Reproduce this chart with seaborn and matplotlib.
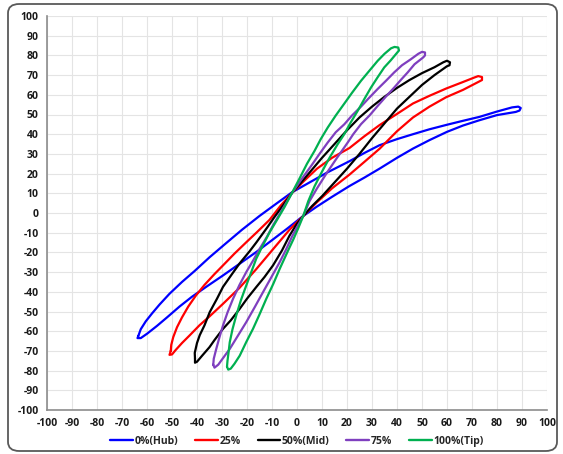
import matplotlib
matplotlib.use("Agg")
import matplotlib.pyplot as plt
import seaborn as sns
import pandas as pd
from matplotlib.patches import FancyBboxPatch

# ---------------- data ----------------
series_names = ["0%(Hub)", "25%", "50%(Mid)", "75%", "100%(Tip)"]
series_colors = ["#0000ff", "#ff0000", "#000000", "#7f3fbf", "#00b050"]

hub_x = [-63.5, -62.5, -60.5, -58, -55, -51, -46, -41, -35, -29, -22, -15, -8, -2, 5, 12, 21, 27, 33, 40,
         46.4, 53, 60, 66.4, 73, 80, 86, 88.5, 89.5, 89, 87.5, 80, 73, 66.4, 60, 53, 46.4, 40, 33, 27,
         21, 14, 8, 2.5, -4, -10, -16.3, -23, -29.6, -36, -42, -47, -52, -56, -60, -62.5, -63.8, -63.5]
hub_y = [-62.5, -59, -55, -51, -46.5, -41, -35, -29.5, -22.5, -16, -8.5, -1.5, 5, 10.5, 15.5, 20.5, 26.3, 30.5, 34.4, 37.5,
         40, 42.5, 44.8, 46.8, 48.8, 51.5, 53.6, 54, 53.3, 52, 51.3, 49.7, 47.1, 44.4, 41.2, 37, 32.7, 28, 22.5, 18,
         13.7, 8.2, 3.3, -1.5, -8, -13.8, -19.8, -25.8, -31.7, -37.2, -42.5, -47.5, -53, -57.3, -61.3, -63.5, -63.5, -62.5]

r25_x = [-50.5, -50.3, -49.5, -48, -46, -43.5, -40.5, -37, -33, -29.6, -25, -20, -16, -11, -6.5, -2, 3, 8, 14, 21,
         27, 33, 40, 46.4, 53, 59.7, 66, 71, 72.5, 74, 74, 72.5, 66.4, 59.7, 53, 46.4, 40, 33.1, 27, 21,
         14, 8, 2.5, -3, -9, -16.3, -23, -29.6, -35, -39, -43, -46, -48.5, -50, -51, -50.5]
r25_y = [-70, -67, -63, -58, -53, -47.5, -42, -36.5, -31, -26.6, -20.6, -14.5, -9.7, -3.5, 3.8, 10.2, 16.5, 22.5, 28, 33,
         39, 44.6, 50.3, 55.6, 59.5, 63.2, 66.3, 68.8, 69.5, 69, 67.5, 66.5, 62.5, 58.8, 54, 48.5, 41.5, 32.7, 26, 19.5,
         12.5, 5.5, -1.5, -8.5, -17.5, -28.5, -38, -46.1, -52.5, -57, -62.2, -66, -69.5, -71.8, -72, -70]

mid_x = [-40.8, -40.9, -40, -38.9, -37, -34.9, -32, -29.6, -26, -22.9, -19, -16.3, -12, -9, -5.5, -2, 2, 6, 10, 15,
         20, 25, 30, 35, 40, 45, 50, 55, 58.5, 60, 61.2, 61, 60, 55, 50, 45, 40, 35, 30, 25,
         20, 15, 10, 6, 2.5, 0, -3, -6, -9.6, -13, -16.3, -20, -22.9, -26.5, -29.6, -33, -35, -38, -40, -40.8, -40.8]
mid_y = [-74, -71, -66, -62, -57, -50.3, -43.5, -37.5, -31, -25.5, -19.5, -15, -7.5, -2, 4, 10.2, 16, 22, 28, 35,
         42, 48.5, 54, 59, 63.5, 67.5, 71, 74, 76.5, 77.3, 76.5, 75, 74.5, 70, 65, 59, 53, 45.5, 38, 30,
         22.5, 15.5, 8.5, 3.5, -1.5, -5.4, -11.5, -19, -26.6, -32.5, -37.6, -43.5, -48.6, -54.5, -58.8, -64.5, -68.1, -72.5, -75.5, -76, -74]

p75_x = [-33.5, -33.3, -32.3, -31, -29.6, -27.8, -25.6, -23, -20.3, -17.5, -14.9, -12, -9.6, -6, -2, 2, 6, 9, 12.3, 15.5,
         18.9, 22, 25.6, 28.5, 32.3, 35.5, 38.9, 42, 45.6, 48.5, 50, 51.2, 51.2, 50.5, 47, 44.3, 41.5, 38.9, 35.5, 32.3,
         29, 25.6, 22.5, 20.3, 16, 12, 8, 5, 2.5, 0.4, -2, -4.4, -6.9, -10, -13.6, -17, -20.3, -23.5, -26.9, -29.5, -31.5, -33, -33.5]
p75_y = [-77, -74, -69, -63, -57.1, -50.5, -43.6, -36.5, -30, -24, -18.1, -12, -6.3, 1.5, 10.2, 17.5, 24.5, 30, 35.8, 41,
         45, 49.5, 54, 58, 63, 67, 71.4, 75, 78.1, 80.8, 81.8, 81.5, 80, 79, 75.5, 71.4, 67.5, 63.7, 59, 54.4,
         49.5, 45.1, 40, 35.8, 28, 20.5, 12.5, 6, -1.5, -6.3, -12, -18.6, -24.9, -32, -40.2, -48, -55.4, -62, -69, -73.5, -77, -78.5, -77]

tip_x = [-28, -27.8, -27.3, -26.9, -25.8, -24.3, -22.5, -20.3, -18.3, -16.3, -13.5, -10.9, -8, -5, -2, 1, 4, 7, 9.5, 12.3,
         15.5, 18.9, 22, 25.6, 29, 32.3, 35, 37.6, 39, 40.5, 40.8, 40, 37.5, 34.9, 32.2, 29.6, 27, 24.3, 21.5, 18.9,
         16.3, 13, 10, 7, 4.5, 2.5, 0.4, -1.5, -3.4, -6.9, -9.5, -12.3, -15, -17.6, -20.3, -22.9, -25, -26.5, -27.5, -28]
tip_y = [-78, -75, -70, -65.6, -59, -52, -44.5, -36.8, -30, -23.2, -16, -9.7, -3.5, 3, 10.2, 17.5, 25, 31.5, 37.5, 43.4,
         49.5, 55.5, 61, 67.1, 72.3, 77.3, 80.8, 83.6, 84.3, 84, 82.5, 81.3, 77.5, 73.9, 68.8, 63.7, 58, 51.9, 46, 40,
         35, 28, 21, 13.5, 6, -1.5, -8, -13.5, -18.6, -28.3, -36, -43.6, -51.5, -58.8, -65.5, -72.4, -76.5, -79, -79.5, -78]

tick_values = list(range(-100, 101, 10))

# ---------------- build table ----------------
all_x = [hub_x, r25_x, mid_x, p75_x, tip_x]
all_y = [hub_y, r25_y, mid_y, p75_y, tip_y]
frames = []
for name, xs, ys in zip(series_names, all_x, all_y):
    frames.append(pd.DataFrame({"x": xs, "y": ys, "series": name,
                                "order": range(len(xs))}))
df = pd.concat(frames, ignore_index=True)

# ---------------- figure ----------------
sns.set_style("white")
plt.rcParams["font.family"] = ["Open Sans", "DejaVu Sans"]

W, H = 563, 454
fig = plt.figure(figsize=(W / 100, H / 100), dpi=100)

ax = fig.add_axes([47 / W, 1 - 410 / H, 500 / W, 394 / H])
ax.set_facecolor("none")

sns.lineplot(data=df, x="x", y="y", hue="series", hue_order=series_names,
             palette=series_colors, sort=False, estimator=None,
             linewidth=1.6, ax=ax, zorder=3)

ax.set_xlim(-100, 100)
ax.set_ylim(-100, 100)
ax.set_xticks(tick_values)
ax.set_yticks(tick_values)
ax.set_xticklabels([str(v) for v in tick_values], fontsize=7.5, fontweight="bold", color="#1a1a1a")
ax.set_yticklabels([str(v) for v in tick_values], fontsize=7.5, fontweight="bold", color="#1a1a1a")
ax.grid(True, color="#e4e4e4", linewidth=0.8, zorder=0)
ax.set_axisbelow(True)
ax.set_xlabel("")
ax.set_ylabel("")
for s in ["top", "right"]:
    ax.spines[s].set_visible(False)
for s in ["left", "bottom"]:
    ax.spines[s].set_color("#8c8c8c")
    ax.spines[s].set_linewidth(1.2)
ax.tick_params(axis="both", which="major", length=3, width=0.8, color="#8c8c8c",
               direction="out", pad=3)

leg = ax.legend(loc="upper center", bbox_to_anchor=(0.5, -0.042), ncol=5,
                frameon=False, handlelength=2.2, handletextpad=0.15,
                columnspacing=1.6, prop={"size": 7.5, "weight": "bold"})
for line in leg.get_lines():
    line.set_linewidth(1.7)

# rounded outer frame (no fill, drawn behind everything)
frame = FancyBboxPatch((8 / W, 3 / H), (549 / W), (447 / H),
                       boxstyle="round,pad=0,rounding_size=0.02",
                       transform=fig.transFigure, facecolor="none",
                       edgecolor="#595959", linewidth=1.3, zorder=-10)
fig.patches.append(frame)

fig.savefig("out.png", dpi=100)
